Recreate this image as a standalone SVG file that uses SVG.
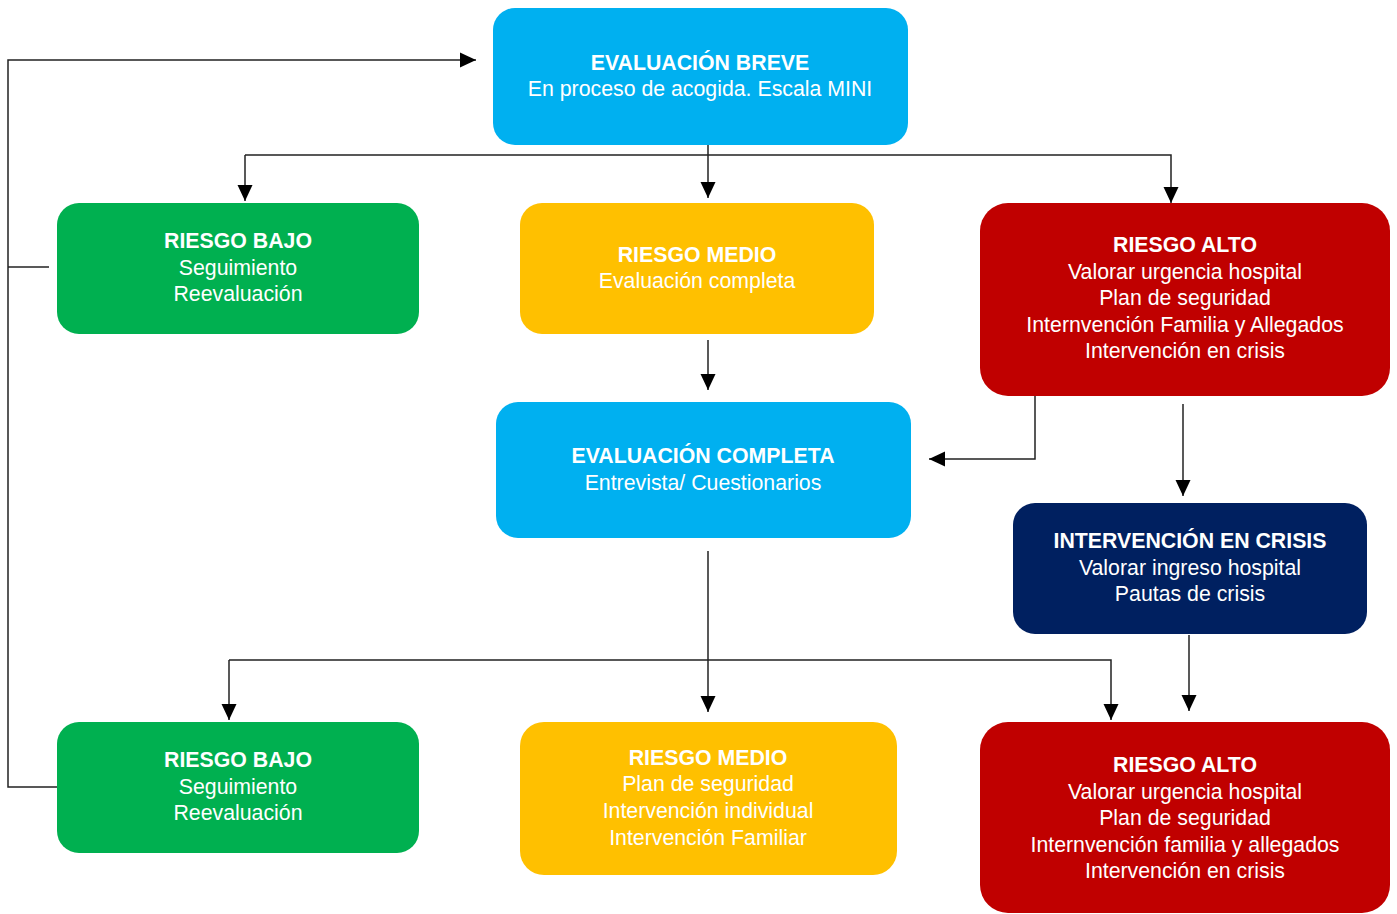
<svg xmlns="http://www.w3.org/2000/svg" width="1397" height="914" viewBox="0 0 1397 914">
<defs>
<marker id="ah" markerWidth="16" markerHeight="16" viewBox="0 0 16 16" refX="16" refY="8" orient="auto" markerUnits="userSpaceOnUse">
<path d="M0,0.5 L16,8 L0,15.5 Z" fill="#000"/>
</marker>
</defs>
<style>
text{font-family:"Liberation Sans",Arial,sans-serif;font-size:21.3px;fill:#fff;text-anchor:middle}
.b{font-weight:bold}
.c{fill:none;stroke:#222;stroke-width:1.5}
.a{marker-end:url(#ah)}
</style>
<rect width="1397" height="914" fill="#fff"/>
<g id="connectors">
<path class="c a" d="M57,787 H8 V60 H476"/>
<path class="c" d="M49,267 H8"/>
<path class="c a" d="M708,145 V198"/>
<path class="c a" d="M245,155 H1171 V203"/>
<path class="c a" d="M245,155 V201"/>
<path class="c a" d="M708,340 V390"/>
<path class="c a" d="M1035,396 V459 H929"/>
<path class="c a" d="M1183,404 V496"/>
<path class="c a" d="M708,551 V712"/>
<path class="c a" d="M229,660 H1111 V720"/>
<path class="c a" d="M229,660 V720"/>
<path class="c a" d="M1189,635 V711"/>
</g>
<g id="eval-breve">
<rect x="493" y="8" width="415" height="137" rx="22" fill="#00B0F0"/>
<text x="700" y="70" class="b">EVALUACIÓN BREVE</text>
<text x="700" y="96">En proceso de acogida. Escala MINI</text>
</g>
<g id="bajo1">
<rect x="57" y="203" width="362" height="131" rx="22" fill="#00B050"/>
<text x="238" y="248" class="b">RIESGO BAJO</text>
<text x="238" y="275">Seguimiento</text>
<text x="238" y="301">Reevaluación</text>
</g>
<g id="medio1">
<rect x="520" y="203" width="354" height="131" rx="22" fill="#FFC000"/>
<text x="697" y="262" class="b">RIESGO MEDIO</text>
<text x="697" y="288">Evaluación completa</text>
</g>
<g id="alto1">
<rect x="980" y="203" width="410" height="193" rx="28" fill="#C00000"/>
<text x="1185" y="252" class="b">RIESGO ALTO</text>
<text x="1185" y="279">Valorar urgencia hospital</text>
<text x="1185" y="305">Plan de seguridad</text>
<text x="1185" y="332">Internvención Familia y Allegados</text>
<text x="1185" y="358">Intervención en crisis</text>
</g>
<g id="eval-completa">
<rect x="496" y="402" width="415" height="136" rx="22" fill="#00B0F0"/>
<text x="703" y="463" class="b">EVALUACIÓN COMPLETA</text>
<text x="703" y="490">Entrevista/ Cuestionarios</text>
</g>
<g id="crisis">
<rect x="1013" y="503" width="354" height="131" rx="22" fill="#002060"/>
<text x="1190" y="548" class="b">INTERVENCIÓN EN CRISIS</text>
<text x="1190" y="575">Valorar ingreso hospital</text>
<text x="1190" y="601">Pautas de crisis</text>
</g>
<g id="bajo2">
<rect x="57" y="722" width="362" height="131" rx="22" fill="#00B050"/>
<text x="238" y="767" class="b">RIESGO BAJO</text>
<text x="238" y="794">Seguimiento</text>
<text x="238" y="820">Reevaluación</text>
</g>
<g id="medio2">
<rect x="520" y="722" width="377" height="153" rx="24" fill="#FFC000"/>
<text x="708" y="765" class="b">RIESGO MEDIO</text>
<text x="708" y="791">Plan de seguridad</text>
<text x="708" y="818">Intervención individual</text>
<text x="708" y="845">Intervención Familiar</text>
</g>
<g id="alto2">
<rect x="980" y="722" width="410" height="191" rx="28" fill="#C00000"/>
<text x="1185" y="772" class="b">RIESGO ALTO</text>
<text x="1185" y="799">Valorar urgencia hospital</text>
<text x="1185" y="825">Plan de seguridad</text>
<text x="1185" y="852">Internvención familia y allegados</text>
<text x="1185" y="878">Intervención en crisis</text>
</g>
</svg>
